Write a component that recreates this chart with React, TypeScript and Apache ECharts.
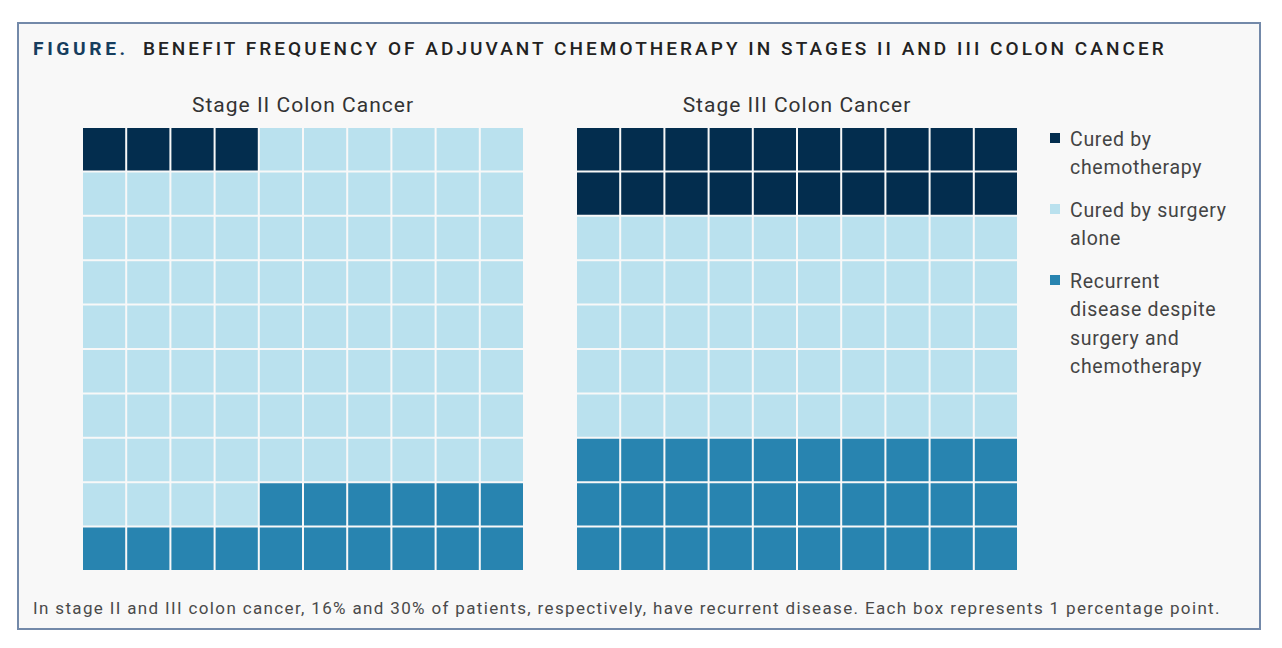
import React, { useEffect, useRef } from "react";
import * as echarts from "echarts";

// ---- Data ----
const categoryNames = [
  "Cured by chemotherapy",
  "Cured by surgery alone",
  "Recurrent disease despite surgery and chemotherapy",
];
const legendLabels = [
  "Cured by\nchemotherapy",
  "Cured by surgery\nalone",
  "Recurrent\ndisease despite\nsurgery and\nchemotherapy",
];
const categoryColors = ["#032d4e", "#bae1ee", "#2884b0"];
const panelTitles = ["Stage II Colon Cancer", "Stage III Colon Cancer"];
// counts out of 100: [chemo, surgery alone, recurrent]
const stageIICounts = [4, 80, 16];
const stageIIICounts = [20, 50, 30];
const gridIndices = ["0", "1", "2", "3", "4", "5", "6", "7", "8", "9"];

const titleLead = "FIGURE.";
const titleText = "BENEFIT FREQUENCY OF ADJUVANT CHEMOTHERAPY IN STAGES II AND III COLON CANCER";
const footerText =
  "In stage II and III colon cancer, 16% and 30% of patients, respectively, have recurrent disease. Each box represents 1 percentage point.";

function buildCells(counts: number[]) {
  const out: number[][][] = [[], [], []];
  const chemo = counts[0];
  const recurrent = counts[2];
  for (let i = 0; i < 100; i++) {
    const cat = i < chemo ? 0 : i < 100 - recurrent ? 1 : 2;
    out[cat].push([i % 10, Math.floor(i / 10)]);
  }
  return out;
}

const FONT = "Roboto, 'Noto Sans', sans-serif";

const css = `
.wf svg text { letter-spacing: 0.9px; }
.wf svg text[style*="19px"] { letter-spacing: 3.05px; }
.wf svg text[style*="19.2px"] { letter-spacing: 3.6px; }
.wf svg text[style*="17px"] { letter-spacing: 1.35px; }
.wf svg text[style*="21px"] { letter-spacing: 1px; }
.wf svg text[style*="19.5px"] { letter-spacing: 0.7px; }
`;

export default function App() {
  const ref = useRef<HTMLDivElement>(null);
  useEffect(() => {
    if (!ref.current) return;
    const chart = echarts.init(ref.current, undefined, { renderer: "svg" });
    const panels = [stageIICounts, stageIIICounts].map(buildCells);
    const gridLefts = [82, 576];
    const gridW = 442;
    const gridTop = 127;
    const gridH = 444;

    const renderItem = (params: any, api: any) => {
      const c = api.coord([api.value(0), api.value(1)]);
      const s = api.size([1, 1]);
      return {
        type: "rect",
        shape: { x: c[0] - s[0] / 2 + 1, y: c[1] - s[1] / 2 + 1, width: s[0] - 2, height: s[1] - 2 },
        style: { fill: api.visual("color") },
      };
    };

    const series: any[] = [];
    panels.forEach((cells, p) => {
      cells.forEach((data, k) => {
        series.push({
          type: "custom",
          name: categoryNames[k],
          xAxisIndex: p,
          yAxisIndex: p,
          itemStyle: { color: categoryColors[k] },
          data,
          renderItem,
          silent: true,
        });
      });
    });

    const graphics: any[] = [
      {
        type: "rect",
        z: -10,
        shape: { x: 18, y: 23, width: 1242, height: 606 },
        style: { fill: "#f8f8f8", stroke: "#7389a9", lineWidth: 2 },
      },
      {
        type: "text",
        x: 33,
        y: 48,
        style: {
          text: titleLead,
          fontFamily: FONT,
          fontSize: 19.2,
          fontWeight: 700,
          fill: "#163d5e",
          verticalAlign: "middle",
        },
      },
      {
        type: "text",
        x: 143,
        y: 48,
        style: {
          text: titleText,
          fontFamily: FONT,
          fontSize: 19,
          fontWeight: 500,
          fill: "#222",
          verticalAlign: "middle",
        },
      },
      {
        type: "text",
        x: 33,
        y: 608,
        style: {
          text: footerText,
          fontFamily: FONT,
          fontSize: 17,
          fill: "#4a4a4a",
          verticalAlign: "middle",
        },
      },
    ];
    panelTitles.forEach((t, p) => {
      graphics.push({
        type: "text",
        x: gridLefts[p] + gridW / 2,
        y: 105,
        style: {
          text: t,
          fontFamily: FONT,
          fontSize: 21,
          fill: "#333",
          align: "center",
          verticalAlign: "middle",
        },
      });
    });
    let ly = 133;
    legendLabels.forEach((label, k) => {
      graphics.push({
        type: "rect",
        shape: { x: 1050, y: ly, width: 10, height: 10 },
        style: { fill: categoryColors[k] },
      });
      graphics.push({
        type: "text",
        x: 1070,
        y: ly - 8,
        style: {
          text: label,
          fontFamily: FONT,
          fontSize: 19.5,
          lineHeight: 28.5,
          fill: "#444",
          verticalAlign: "top",
        },
      });
      ly += label.split("\n").length * 28.5 + 14;
    });

    chart.setOption({
      animation: false,
      backgroundColor: "#ffffff",
      grid: gridLefts.map((l) => ({ left: l, top: gridTop, width: gridW, height: gridH })),
      xAxis: [0, 1].map((i) => ({ type: "category", gridIndex: i, data: gridIndices, show: false })),
      yAxis: [0, 1].map((i) => ({
        type: "category",
        gridIndex: i,
        data: gridIndices,
        inverse: true,
        show: false,
      })),
      series,
      graphic: graphics,
    });
    return () => chart.dispose();
  }, []);
  return (
    <>
      <style>{css}</style>
      <div ref={ref} className="wf" style={{ position: "absolute", left: 0, top: 0, width: 1282, height: 648 }} />
    </>
  );
}
